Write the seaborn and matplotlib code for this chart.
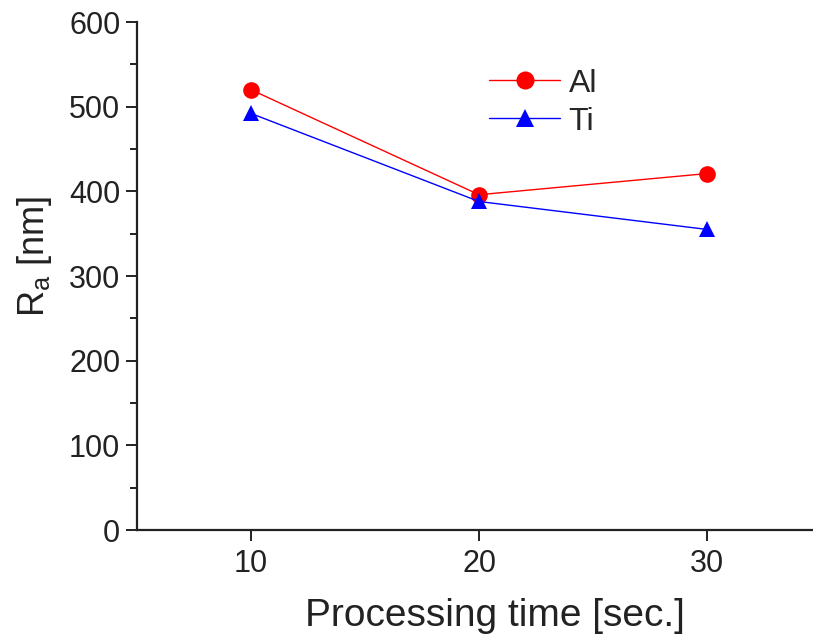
import matplotlib
matplotlib.use("Agg")
import matplotlib.pyplot as plt
import seaborn as sns
import pandas as pd
from matplotlib.ticker import MultipleLocator
from matplotlib.lines import Line2D

sns.set_theme(style="white")
plt.rcParams['font.family'] = ['Liberation Sans', 'DejaVu Sans']
plt.rcParams['mathtext.default'] = 'regular'

times = [10, 20, 30]
al_values = [520, 396, 421]
ti_values = [492, 388, 355]
series_names = ["Al", "Ti"]

df = pd.DataFrame({
    "time": times * 2,
    "Ra": al_values + ti_values,
    "metal": [series_names[0]] * 3 + [series_names[1]] * 3,
})

fig = plt.figure(figsize=(8.13, 6.38), dpi=100)
ax = fig.add_axes([137/813, 108/638, 684/813, 508/638])

sns.lineplot(data=df, x="time", y="Ra", hue="metal", style="metal",
             palette={"Al": "#ff0000", "Ti": "#0000ff"},
             markers={"Al": "o", "Ti": "^"}, dashes=False,
             markersize=12, linewidth=1.0, markeredgewidth=0,
             ax=ax, legend=False)

ax.set_xlim(5, 35)
ax.set_ylim(0, 600)
ax.set_xticks([10, 20, 30])
ax.yaxis.set_major_locator(MultipleLocator(100))
ax.yaxis.set_minor_locator(MultipleLocator(50))
for side in ["top", "right"]:
    ax.spines[side].set_visible(False)
for side in ["left", "bottom"]:
    ax.spines[side].set_linewidth(1.6)
    ax.spines[side].set_color("#222222")
ax.tick_params(axis="both", which="major", direction="out", length=8, width=1.4,
               labelsize=22, colors="#222222", left=True, bottom=True)
ax.tick_params(axis="x", which="major", pad=6)
ax.tick_params(axis="y", which="major", pad=4)
ax.tick_params(axis="y", which="minor", direction="out", length=5, width=1.4,
               colors="#222222", left=True)
ax.set_xlabel("Processing time [sec.]", fontsize=28, color="#222222", labelpad=13)
ax.set_ylabel("R$_a$ [nm]", fontsize=26, color="#222222", labelpad=11)
ax.xaxis.label.set_x(0.523)
ax.yaxis.label.set_y(0.539)

handles = [Line2D([], [], color="#ff0000", marker="o", markersize=13, lw=1.0, markeredgewidth=0),
           Line2D([], [], color="#0000ff", marker="^", markersize=13, lw=1.0, markeredgewidth=0)]
leg = ax.legend(handles, series_names, frameon=False, fontsize=23,
                loc="upper left", bbox_to_anchor=(0.472, 0.965),
                handlelength=2.25, handletextpad=0.25, labelspacing=0.25)

fig.savefig("out.png", dpi=100)
